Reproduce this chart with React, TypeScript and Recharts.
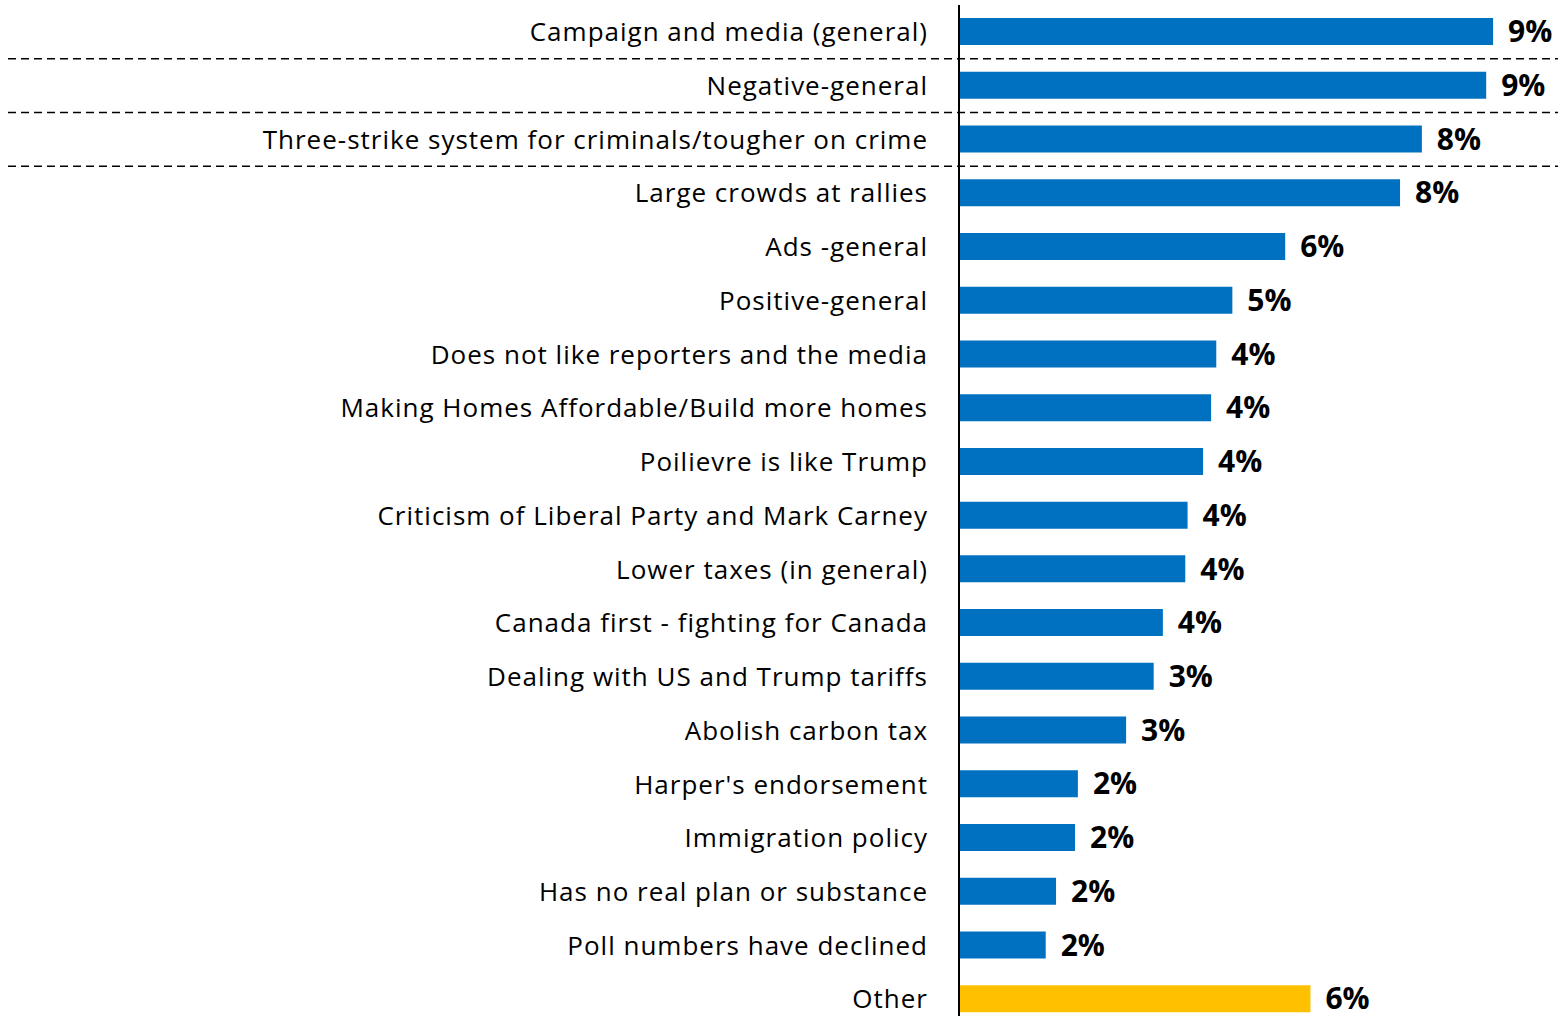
import React from 'react'
import { BarChart, Bar, XAxis, YAxis, Cell, LabelList, ReferenceLine } from 'recharts'

const categories = [
  'Campaign and media (general)',
  'Negative-general',
  'Three-strike system for criminals/tougher on crime',
  'Large crowds at rallies',
  'Ads -general',
  'Positive-general',
  'Does not like reporters and the media',
  'Making Homes Affordable/Build more homes',
  'Poilievre is like Trump',
  'Criticism of Liberal Party and Mark Carney',
  'Lower taxes (in general)',
  'Canada first - fighting for Canada',
  'Dealing with US and Trump tariffs',
  'Abolish carbon tax',
  "Harper's endorsement",
  'Immigration policy',
  'Has no real plan or substance',
  'Poll numbers have declined',
  'Other',
]

// share of mentions, %
const shares = [9.3, 9.18, 8.06, 7.68, 5.68, 4.76, 4.48, 4.39, 4.25, 3.98, 3.94, 3.55, 3.39, 2.91, 2.07, 2.02, 1.69, 1.51, 6.12]

// rows that get a dashed separator above them
const separatorRows = [
  'Negative-general',
  'Three-strike system for criminals/tougher on crime',
  'Large crowds at rallies',
]

const highlightCategory = 'Other'

const BLUE = '#0070C0'
const GOLD = '#FFC000'
const FONT = '"Open Sans", "Noto Sans", sans-serif'

const data = categories.map((name, i) => ({ name, value: shares[i] }))

function CategoryTick(props: any) {
  const { x, y, payload } = props
  return (
    <text
      x={x - 23}
      y={y}
      dy="0.36em"
      textAnchor="end"
      fontFamily={FONT}
      fontSize={26}
      letterSpacing={1}
      fill="#000"
    >
      {payload.value}
    </text>
  )
}

function Separator(props: any) {
  const { x2, y1 } = props
  return (
    <line
      x1={8}
      y1={y1}
      x2={x2 - 4}
      y2={y1}
      stroke="#000"
      strokeWidth={1.5}
      strokeDasharray="8 5"
    />
  )
}

export default function App() {
  return (
    <div style={{ position: 'absolute', left: 0, top: 0, background: '#fff' }}>
      <BarChart
        width={1562}
        height={1026}
        data={data}
        layout="vertical"
        margin={{ top: 5, right: 0, bottom: 0, left: 0 }}
      >
        <XAxis type="number" domain={[0, 10.5]} hide />
        <YAxis
          type="category"
          dataKey="name"
          width={959}
          axisLine={{ stroke: '#000', strokeWidth: 2 }}
          tickLine={false}
          tick={<CategoryTick />}
          interval={0}
        />
        {separatorRows.map((row) => (
          <ReferenceLine key={row} y={row} position="start" shape={<Separator />} />
        ))}
        <Bar dataKey="value" barSize={27} isAnimationActive={false}>
          {data.map((d) => (
            <Cell key={d.name} fill={d.name === highlightCategory ? GOLD : BLUE} />
          ))}
          <LabelList
            dataKey="value"
            position="right"
            offset={15}
            formatter={(v: any) => `${Math.round(Number(v))}%`}
            style={{ fontFamily: FONT, fontSize: 30, fontWeight: 700, fill: '#000' }}
          />
        </Bar>
      </BarChart>
    </div>
  )
}
